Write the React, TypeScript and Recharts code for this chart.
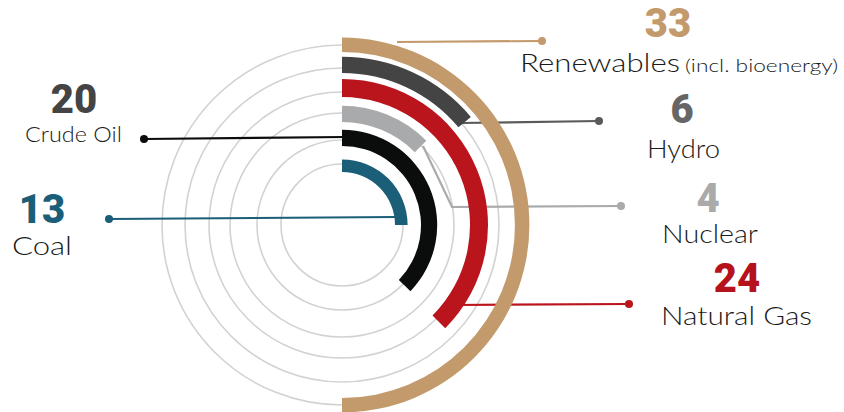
import React from "react";
import {
  RadialBarChart,
  RadialBar,
  PolarAngleAxis,
  PolarGrid,
  Customized,
} from "recharts";

// energy sources, outer ring first
const sources = ["Renewables", "Hydro", "Natural Gas", "Nuclear", "Crude Oil", "Coal"];
const shareValues = [33, 6, 24, 4, 20, 13];
const arcValues = [180, 50, 135, 45, 134, 90];
const subLabel = "(incl. bioenergy)";

const colors = ["#C39A6B", "#444444", "#BA141D", "#A9AAAC", "#0B0D0C", "#1B5E78"];
const numberColors = ["#C39A6B", "#666666", "#B5121B", "#AAAAAA", "#444444", "#1B5E78"];
const lineColors = ["#C39A6B", "#5A5A5A", "#BA141D", "#A9AAAC", "#0B0D0C", "#1B5E78"];

const W = 844;
const H = 412;
const CX = 342;
const CY = 225;

// ring radii [inner, outer] for each source
const rings = [
  [172, 188],
  [151, 169],
  [127, 147],
  [102, 120],
  [78, 96],
  [52, 66],
];
const gridRadii = [61, 85, 112, 133, 157, 180];

// leader lines
const leaders: { pts: number[][]; dotAt: "start" | "end" }[] = [
  { pts: [[397, 42], [542, 41]], dotAt: "end" },
  { pts: [[460, 123], [599, 121]], dotAt: "end" },
  { pts: [[452, 305], [629, 304]], dotAt: "end" },
  { pts: [[423, 146], [452, 207], [621, 206]], dotAt: "end" },
  { pts: [[144, 139], [345, 137]], dotAt: "start" },
  { pts: [[109, 219], [396, 217]], dotAt: "start" },
];
// number: centre x / baseline; name: left x / baseline / width / size
const labelPos = [
  { x: 668, numY: 37, nameX: 520, nameY: 72, nameW: 160, nameSize: 26 },
  { x: 682, numY: 123, nameX: 647, nameY: 158, nameW: 73, nameSize: 25 },
  { x: 737, numY: 292, nameX: 661, nameY: 325, nameW: 151, nameSize: 26 },
  { x: 708, numY: 212, nameX: 662, nameY: 243, nameW: 96, nameSize: 25 },
  { x: 74, numY: 113, nameX: 25, nameY: 142, nameW: 97, nameSize: 22 },
  { x: 42, numY: 223, nameX: 12, nameY: 255, nameW: 60, nameSize: 26 },
];

const Leaders = () => (
  <g>
    {leaders.map((l, i) => {
      const d = l.pts.map((p, j) => `${j === 0 ? "M" : "L"}${p[0]},${p[1]}`).join(" ");
      const dot = l.dotAt === "end" ? l.pts[l.pts.length - 1] : l.pts[0];
      return (
        <g key={i}>
          <path d={d} stroke={lineColors[i]} strokeWidth={2.2} fill="none" />
          <circle cx={dot[0]} cy={dot[1]} r={4} fill={lineColors[i]} />
        </g>
      );
    })}
  </g>
);

const nameFont = "Lato, 'Open Sans', sans-serif";

const Labels = () => (
  <g>
    {sources.map((s, i) => {
      const p = labelPos[i];
      return (
        <g key={s}>
          <text
            x={p.x}
            y={p.numY}
            textAnchor="middle"
            fontFamily="Roboto, 'Open Sans', sans-serif"
            fontWeight={900}
            fontSize={40}
            fill={numberColors[i]}
          >
            {shareValues[i]}
          </text>
          <text
            x={p.nameX}
            y={p.nameY}
            fontFamily={nameFont}
            fontWeight={300}
            fontSize={p.nameSize}
            textLength={p.nameW}
            lengthAdjust="spacingAndGlyphs"
            fill="#1a1a1a"
          >
            {s}
          </text>
        </g>
      );
    })}
    <text
      x={685}
      y={72}
      fontFamily={nameFont}
      fontWeight={300}
      fontSize={18}
      textLength={153}
      lengthAdjust="spacingAndGlyphs"
      fill="#1a1a1a"
    >
      {subLabel}
    </text>
  </g>
);

const layer: React.CSSProperties = { position: "absolute", left: 0, top: 0 };

export default function App() {
  return (
    <div style={{ position: "absolute", left: 0, top: 0, width: W, height: H, background: "#fff" }}>
      <div style={layer}>
        <RadialBarChart
          width={W}
          height={H}
          cx={CX}
          cy={CY}
          innerRadius={0}
          outerRadius={200}
          data={[{ v: 0 }]}
          margin={{ top: 0, right: 0, bottom: 0, left: 0 }}
        >
          <PolarGrid
            gridType="circle"
            radialLines={false}
            polarRadius={gridRadii}
            polarAngles={[]}
            stroke="#D2D2D2"
            strokeWidth={1.6}
          />
          <Customized component={Leaders} />
        </RadialBarChart>
      </div>
      {sources.map((s, i) => (
        <div style={layer} key={s}>
          <RadialBarChart
            width={W}
            height={H}
            cx={CX}
            cy={CY}
            innerRadius={rings[i][0]}
            outerRadius={rings[i][1]}
            startAngle={90}
            endAngle={-270}
            barCategoryGap={0}
            data={[{ name: s, value: arcValues[i] }]}
            margin={{ top: 0, right: 0, bottom: 0, left: 0 }}
          >
            <PolarAngleAxis type="number" domain={[0, 360]} tick={false} axisLine={false} />
            <RadialBar
              dataKey="value"
              fill={colors[i]}
              barSize={rings[i][1] - rings[i][0]}
              isAnimationActive={false}
            />
          </RadialBarChart>
        </div>
      ))}
      <div style={layer}>
        <RadialBarChart
          width={W}
          height={H}
          cx={CX}
          cy={CY}
          data={[{ v: 0 }]}
          margin={{ top: 0, right: 0, bottom: 0, left: 0 }}
        >
          <Customized component={Labels} />
        </RadialBarChart>
      </div>
    </div>
  );
}
